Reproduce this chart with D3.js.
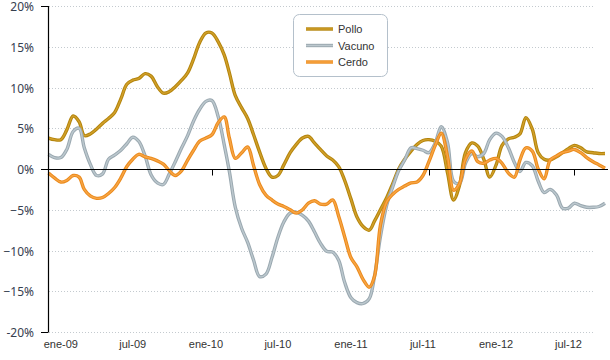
<!DOCTYPE html>
<html>
<head>
<meta charset="utf-8">
<script src="https://cdn.jsdelivr.net/npm/d3@7"></script>
<style>
  body { margin: 0; background: #fff; }
</style>
</head>
<body>
<div id="chart"></div>
<script>

var width = 610, height = 360;

// half-monthly observations, dic-08 .. oct-12 (1st and 16th of each month)
var periods = d3.range(93).map(function(i) {
    return new Date(2008, 11 + Math.floor(i / 2), i % 2 ? 16 : 1);
});

var pollo = [3.8, 3.6, 3.6, 4.8, 6.5, 5.8, 4.1, 4.3, 4.9, 5.6,
             6.2, 6.9, 8.6, 10.4, 10.9, 11.1, 11.7, 11.4, 10.1, 9.3,
             9.5, 10.1, 10.9, 11.8, 13.5, 15.5, 16.7, 16.7, 15.6, 14.0,
             11.8, 9.0, 7.5, 6.2, 4.2, 2.1, 0.1, -1.0, -0.8, 0.5,
             2.0, 3.0, 3.8, 4.0, 3.2, 2.4, 1.6, 1.1, 0.3, -1.4,
             -3.7, -5.9, -7.1, -7.5, -6.4, -5.0, -3.5, -1.8, 0.0, 1.2,
             2.2, 3.0, 3.5, 3.6, 3.4, 2.8, -0.5, -3.8, -2.0, 2.0,
             3.2, 2.8, 1.2, -1.0, 0.5, 2.9, 3.7, 3.9, 4.3, 6.3,
             4.9, 2.0, 1.2, 1.1, 1.5, 2.0, 2.5, 2.9, 2.6, 2.1,
             2.0, 1.9, 1.9];

var vacuno = [1.8, 1.4, 1.4, 2.4, 4.6, 5.0, 2.6, 0.6, -0.8, -0.6,
              1.2, 1.7, 2.3, 3.1, 3.9, 3.4, 1.6, -0.7, -1.7, -1.9,
              -0.6, 0.9, 2.6, 4.1, 5.9, 7.3, 8.3, 8.4, 6.4, 3.0,
              -0.3, -4.7, -7.3, -9.0, -11.2, -13.2, -12.9, -10.9, -8.4, -6.5,
              -5.4, -5.3, -5.7, -6.4, -7.7, -9.1, -10.1, -10.2, -11.2, -13.9,
              -15.8, -16.4, -16.5, -15.9, -13.2, -8.3, -4.4, -2.2, -0.2, 1.1,
              2.6, 2.5, 2.3, 2.0, 3.2, 5.2, 3.2, -1.5, -1.8, 0.7,
              1.9, 1.5, 1.9, 3.6, 4.4, 4.0, 2.6, 0.8, -0.3, 0.8,
              0.4, -1.5, -2.9, -2.5, -3.2, -4.8, -4.8, -4.2, -4.5, -4.7,
              -4.7, -4.6, -4.2];

var cerdo = [-0.5, -1.1, -1.6, -1.4, -0.8, -1.0, -2.5, -3.3, -3.6, -3.5,
             -3.0, -2.3, -1.1, 0.3, 1.2, 1.8, 1.5, 1.3, 1.0, 0.6,
             -0.2, -0.8, -0.2, 1.1, 2.3, 3.4, 3.8, 4.2, 5.7, 6.4,
             3.8, 1.3, 2.0, 2.7, 0.4, -1.9, -3.2, -3.8, -4.3, -4.6,
             -5.0, -5.4, -5.0, -4.2, -3.9, -4.3, -4.3, -3.8, -5.8, -8.3,
             -10.9, -12.0, -13.6, -14.5, -13.2, -6.9, -4.0, -3.1, -2.5, -2.1,
             -1.7, -1.6, -0.8, 0.9, 2.9, 4.4, 1.5, -2.6, -1.8, 1.2,
             2.2, 0.9, 0.7, 1.1, 1.3, 0.7, -0.5, -1.0, 1.1, 2.6,
             2.2, 0.0, -1.2, 1.1, 1.6, 2.0, 2.2, 2.4, 2.0, 1.4,
             0.9, 0.5, 0.1];

var seriesNames = ["Pollo", "Vacuno", "Cerdo"];
var seriesEdge = ["#b3840c", "#9aa8b0", "#ea8a1c"];
var seriesCore = ["#d2a02a", "#bcc8ce", "#f8a544"];

var yTicks = [-20, -15, -10, -5, 0, 5, 10, 15, 20];
var yTickLabels = ["-20%", "\u221215%", "\u221210%", "\u22125%", "0%", "5%", "10%", "15%", "20%"];
var yMarks = [-20, 0, 20];

var xLabelDates = [new Date(2009, 0, 1), new Date(2009, 6, 1), new Date(2010, 0, 1), new Date(2010, 6, 1),
                   new Date(2011, 0, 1), new Date(2011, 6, 1), new Date(2012, 0, 1), new Date(2012, 6, 1)];
var xLabels = ["ene-09", "jul-09", "ene-10", "jul-10", "ene-11", "jul-11", "ene-12", "jul-12"];
var xMarks = [new Date(2010, 0, 16), new Date(2011, 6, 16), new Date(2012, 6, 16)];

var x = d3.scaleTime()
    .domain([periods[0], periods[periods.length - 1]])
    .range([48.5, 605]);

var y = d3.scaleLinear()
    .domain([-20, 20])
    .range([332, 6]);

var svg = d3.select("#chart")
    .append("svg")
    .attr("width", width)
    .attr("height", height)
    .style("font-family", "'Liberation Sans', Arial, sans-serif");

// dotted gridlines
svg.append("g")
    .selectAll("line")
    .data(yTicks.filter(function(d) { return d !== 0; }))
    .enter()
    .append("line")
    .attr("x1", 49).attr("x2", 593)
    .attr("y1", function(d) { return Math.round(y(d)) + 0.5; })
    .attr("y2", function(d) { return Math.round(y(d)) + 0.5; })
    .attr("stroke", "#c4cacf")
    .attr("stroke-width", 1)
    .attr("stroke-dasharray", "1,2");

// y labels
svg.append("g")
    .selectAll("text")
    .data(yTicks)
    .enter()
    .append("text")
    .attr("x", 34)
    .attr("y", function(d) { return y(d) + 5.2; })
    .attr("text-anchor", "end")
    .style("font-family", "'Noto Sans', 'Open Sans', sans-serif")
    .style("font-size", "12px")
    .attr("fill", "#36404f")
    .text(function(d, i) { return yTickLabels[i]; });

// lines
var line = d3.line()
    .x(function(d, i) { return x(periods[i]); })
    .y(function(d) { return y(d); })
    .curve(d3.curveCatmullRom.alpha(0.5));

var allSeries = [pollo, vacuno, cerdo];

allSeries.forEach(function(values, k) {
    svg.append("path")
        .attr("d", line(values))
        .attr("fill", "none")
        .attr("stroke", seriesEdge[k])
        .attr("stroke-width", 3.4)
        .attr("stroke-linejoin", "round");
    svg.append("path")
        .attr("d", line(values))
        .attr("fill", "none")
        .attr("stroke", seriesCore[k])
        .attr("stroke-width", 1.4)
        .attr("stroke-linejoin", "round");
});

// axes
svg.append("line")
    .attr("x1", 48.5).attr("x2", 48.5)
    .attr("y1", y(20)).attr("y2", y(-20))
    .attr("stroke", "#000").attr("stroke-width", 1.2);

svg.append("g")
    .selectAll("line")
    .data(yMarks)
    .enter()
    .append("line")
    .attr("x1", 41).attr("x2", 48.5)
    .attr("y1", function(d) { return Math.round(y(d)) + 0.5; })
    .attr("y2", function(d) { return Math.round(y(d)) + 0.5; })
    .attr("stroke", "#000");

var y0 = Math.round(y(0)) + 0.5;
svg.append("line")
    .attr("x1", 48).attr("x2", 608)
    .attr("y1", y0).attr("y2", y0)
    .attr("stroke", "#000").attr("stroke-width", 1.2);

svg.append("g")
    .selectAll("line")
    .data(xMarks)
    .enter()
    .append("line")
    .attr("x1", function(d) { return Math.round(x(d)) + 0.5; })
    .attr("x2", function(d) { return Math.round(x(d)) + 0.5; })
    .attr("y1", y0).attr("y2", y0 + 6)
    .attr("stroke", "#000");

// x labels
svg.append("g")
    .selectAll("text")
    .data(xLabelDates)
    .enter()
    .append("text")
    .attr("x", function(d) { return x(d); })
    .attr("y", 348)
    .attr("text-anchor", "middle")
    .style("font-size", "11px")
    .attr("fill", "#333")
    .text(function(d, i) { return xLabels[i]; });

// legend
var legend = svg.append("g");
legend.append("rect")
    .attr("x", 293.5).attr("y", 14.5)
    .attr("width", 94).attr("height", 62)
    .attr("rx", 6)
    .attr("fill", "#fff")
    .attr("stroke", "#b4c0cb");

seriesNames.forEach(function(name, k) {
    var ly = 29 + k * 16.5;
    legend.append("line")
        .attr("x1", 306).attr("x2", 333)
        .attr("y1", ly).attr("y2", ly)
        .attr("stroke", seriesEdge[k]).attr("stroke-width", 3.4);
    legend.append("line")
        .attr("x1", 306).attr("x2", 333)
        .attr("y1", ly).attr("y2", ly)
        .attr("stroke", seriesCore[k]).attr("stroke-width", 1.4);
    legend.append("text")
        .attr("x", 338)
        .attr("y", ly + 4)
        .style("font-size", "11px")
        .attr("fill", "#333")
        .text(name);
});

</script>
</body>
</html>
